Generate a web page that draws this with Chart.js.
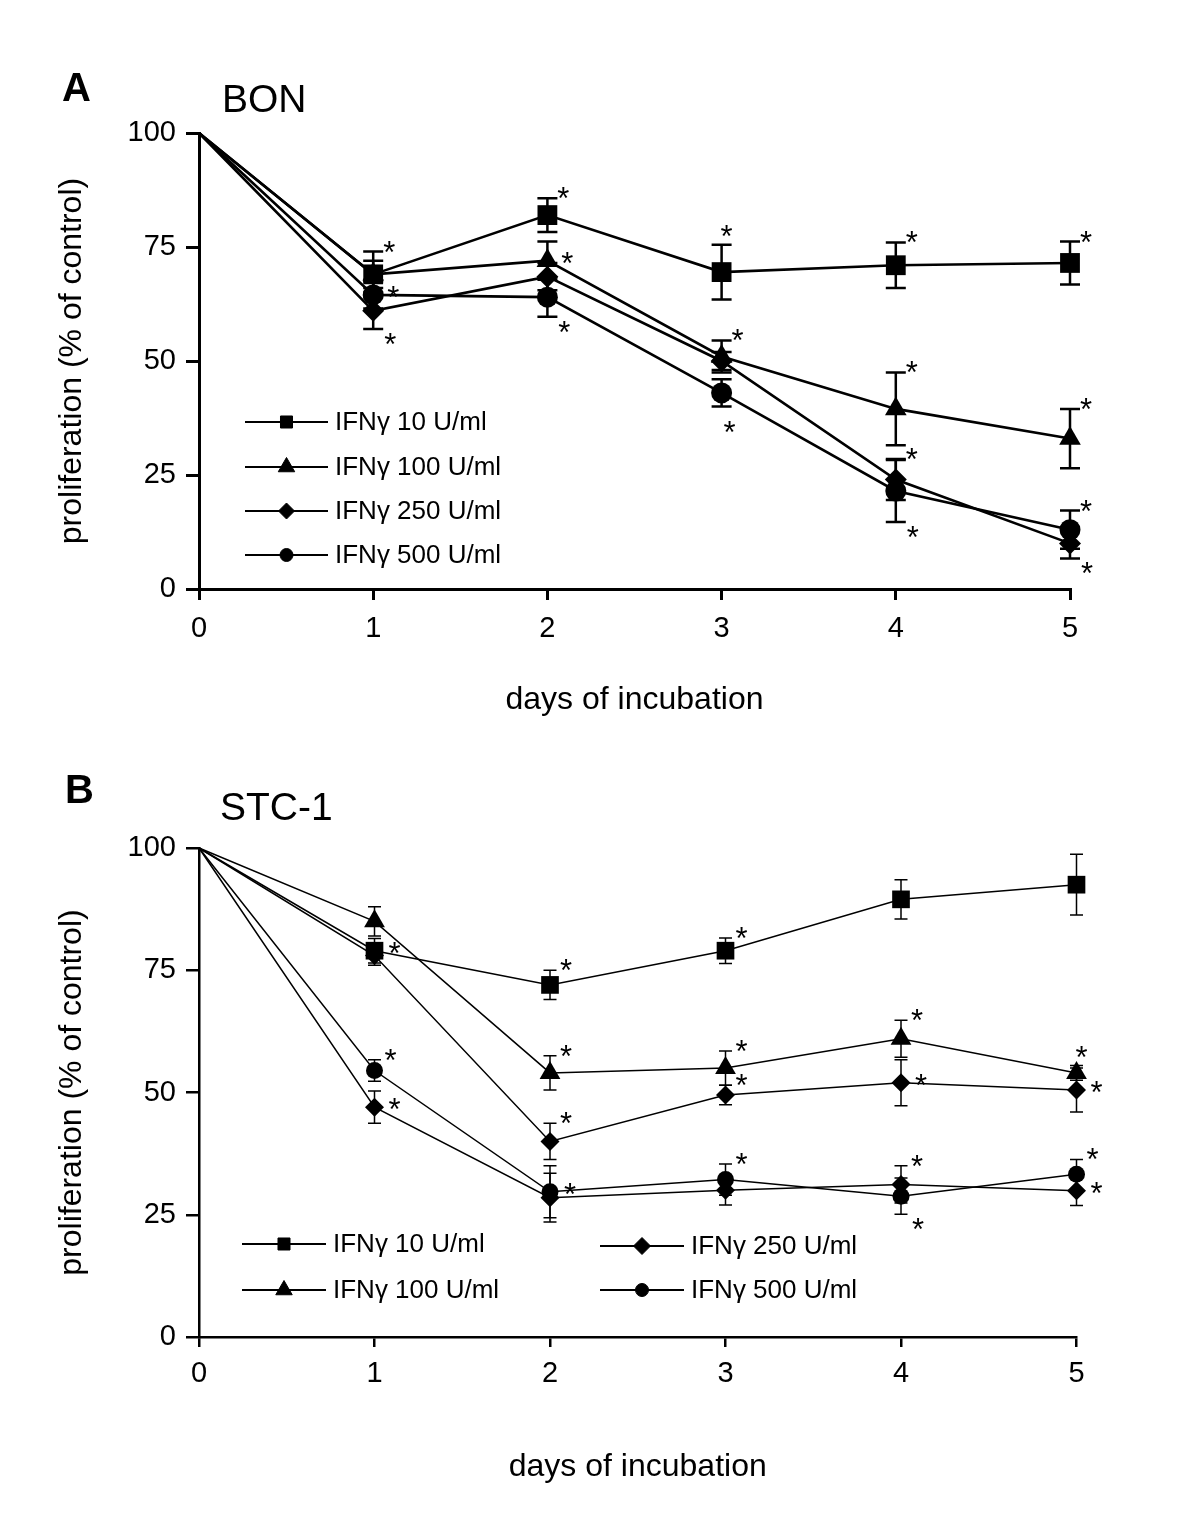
<!DOCTYPE html>
<html>
<head>
<meta charset="utf-8">
<title>IFNγ proliferation</title>
<script src="https://cdn.jsdelivr.net/npm/chart.js@4.4.1/dist/chart.umd.min.js"></script>
<style>
  html, body { margin: 0; padding: 0; background: #fff; }
  .panel { position: absolute; left: 0; width: 1200px; height: 770px; }
  #panelA { top: 0; }
  #panelB { top: 770px; }
</style>
</head>
<body>
<div class="panel" id="panelA"><canvas id="chartA" width="1200" height="770"></canvas></div>
<div class="panel" id="panelB"><canvas id="chartB" width="1200" height="770"></canvas></div>
<script>
/* ---- Data ---- */

const days = [0, 1, 2, 3, 4, 5];
const yTickStep = 25;
const legendLabels = ["IFNγ 10 U/ml", "IFNγ 100 U/ml", "IFNγ 250 U/ml", "IFNγ 500 U/ml"];

// Panel A: BON cells (mean, SEM, significance star placement)
const bon10 = [100, 69, 82, 69.5, 71, 71.5];
const bon10Err = [0, 5, 3.7, 6, 5, 4.7];
const bon10Stars = ["", "u", "u", "a", "u", "u"];
const bon100 = [100, 69, 72, 51, 39.5, 33];
const bon100Err = [0, 3, 4.2, 3.5, 8, 6.5];
const bon100Stars = ["", "", "r", "u", "u", "u"];
const bon250 = [100, 61, 68.5, 50, 24, 10];
const bon250Err = [0, 4, 3, 2, 4.5, 3.3];
const bon250Stars = ["", "d", "", "", "u", "d"];
const bon500 = [100, 64.5, 64, 43, 21.5, 13];
const bon500Err = [0, 3, 4.3, 3, 6.8, 4.2];
const bon500Stars = ["", "r", "d", "b", "d", "u"];

// Panel B: STC-1 cells (the fifth, unlabelled diamond series has no legend entry)
const stc10 = [100, 79, 72, 79, 89.5, 92.5];
const stc10Err = [0, 2.5, 3, 2.6, 4, 6.2];
const stc10Stars = ["", "r", "u", "u", "", ""];
const stc100 = [100, 85, 54, 55, 61, 54];
const stc100Err = [0, 3, 3.5, 3.5, 3.8, 1.5];
const stc100Stars = ["", "", "u", "u", "u", "a"];
const stc250 = [100, 78, 40, 49.5, 52, 50.5];
const stc250Err = [0, 2, 3.7, 2, 4.7, 4.5];
const stc250Stars = ["", "", "u", "u", "r", "r"];
const stc500 = [100, 54.5, 29.7, 32.2, 28.8, 33.3];
const stc500Err = [0, 2.2, 5.3, 3.2, 3.7, 3];
const stc500Stars = ["", "u", "r", "u", "d", "u"];
const stcExtra = [100, 47, 28.5, 30, 31.2, 29.9];
const stcExtraErr = [0, 3.3, 5, 3, 3.8, 3];
const stcExtraStars = ["", "r", "", "", "u", "r"];

/* ---- Theme ---- */

const FONT = "'Liberation Sans', Arial, Helvetica, sans-serif";
Chart.defaults.font.family = FONT;
Chart.defaults.color = "#000";

/* ---- Plugins ---- */

// error bars under the markers, asterisks on top
const errorBarPlugin = {
  id: "errorBars",
  beforeDatasetsDraw(chart, args, opts) {
    const { ctx } = chart;
    const yScale = chart.scales.y;
    ctx.save();
    ctx.strokeStyle = "#000";
    ctx.lineWidth = opts.lineWidth;
    chart.data.datasets.forEach((ds, i) => {
      chart.getDatasetMeta(i).data.forEach((pt, j) => {
        const err = ds.errors[j];
        if (!err) return;
        const v = ds.data[j].y;
        const top = yScale.getPixelForValue(v + err);
        const bottom = yScale.getPixelForValue(v - err);
        ctx.beginPath();
        ctx.moveTo(pt.x, top);
        ctx.lineTo(pt.x, bottom);
        ctx.moveTo(pt.x - opts.cap, top);
        ctx.lineTo(pt.x + opts.cap, top);
        ctx.moveTo(pt.x - opts.cap, bottom);
        ctx.lineTo(pt.x + opts.cap, bottom);
        ctx.stroke();
      });
    });
    ctx.restore();
  },
  afterDatasetsDraw(chart, args, opts) {
    const { ctx } = chart;
    const yScale = chart.scales.y;
    const place = {
      u: [16, -7, 1], a: [5, -16, 1], r: [20, -5, 0], d: [17, 8, -1], b: [8, 18, -1],
    };
    ctx.save();
    ctx.fillStyle = "#000";
    ctx.font = `${opts.starSize}px ${FONT}`;
    ctx.textAlign = "center";
    ctx.textBaseline = "alphabetic";
    chart.data.datasets.forEach((ds, i) => {
      chart.getDatasetMeta(i).data.forEach((pt, j) => {
        const kind = ds.stars[j];
        if (!kind) return;
        const [dx, dy, side] = place[kind];
        const v = ds.data[j].y + side * ds.errors[j];
        const cy = yScale.getPixelForValue(v) + dy;
        ctx.fillText("*", pt.x + dx, cy + opts.starSize * 0.58);
      });
    });
    ctx.restore();
  },
};

const markerLegendPlugin = {
  id: "markerLegend",
  afterDraw(chart, args, opts) {
    const { ctx } = chart;
    ctx.save();
    opts.slots.forEach((slot, k) => {
      const ds = chart.data.datasets[k];
      const cx = slot.x + opts.lineLength / 2;
      ctx.strokeStyle = "#000";
      ctx.lineWidth = opts.lineWidth;
      ctx.beginPath();
      ctx.moveTo(slot.x, slot.y);
      ctx.lineTo(slot.x + opts.lineLength, slot.y);
      ctx.stroke();
      ctx.fillStyle = "#000";
      ctx.lineWidth = 1;
      Chart.helpers.drawPoint(
        ctx,
        { pointStyle: ds.pointStyle, radius: ds.legendRadius, rotation: 0, borderWidth: 1 },
        cx,
        slot.y,
      );
      ctx.font = `${opts.fontSize}px ${FONT}`;
      ctx.textAlign = "left";
      ctx.textBaseline = "middle";
      ctx.fillText(ds.label, slot.x + opts.lineLength + opts.gap, slot.y + 1);
    });
    ctx.restore();
  },
};

const panelLabelPlugin = {
  id: "panelLabel",
  afterDraw(chart, args, opts) {
    const { ctx } = chart;
    ctx.save();
    ctx.fillStyle = "#000";
    ctx.textBaseline = "alphabetic";
    ctx.textAlign = "left";
    ctx.font = `bold 40px ${FONT}`;
    ctx.fillText(opts.letter, opts.letterX, opts.letterY);
    ctx.font = `39px ${FONT}`;
    ctx.fillText(opts.title, opts.titleX, opts.titleY);
    ctx.restore();
  },
};

/* ---- Helpers ---- */

const toPoints = (values) => values.map((v, i) => ({ x: days[i], y: v }));

const makeSeries = (label, values, errors, stars, style, radius, legendRadius, lineWidth) => ({
  label,
  data: toPoints(values),
  errors,
  stars,
  legendRadius,
  borderColor: "#000",
  backgroundColor: "#000",
  borderWidth: lineWidth,
  pointStyle: style,
  pointRadius: (c) => (c.dataIndex === 0 ? 0 : radius),
  pointBackgroundColor: "#000",
  pointBorderWidth: 0,
  tension: 0,
  clip: false,
});

const makeScales = (p) => ({
  x: {
    type: "linear",
    min: 0,
    max: 5,
    afterFit: (s) => { s.height = p.xAxisHeight; },
    ticks: { stepSize: 1, font: { size: 29 }, color: "#000", padding: p.xPad },
    grid: { drawOnChartArea: false, drawTicks: true, tickLength: p.tick, color: "#000", lineWidth: p.axisWidth },
    border: { display: true, color: "#000", width: p.axisWidth },
    title: {
      display: true, text: "days of incubation", color: "#000",
      font: { size: 32 }, padding: { top: 0, bottom: p.xTitlePad },
    },
  },
  y: {
    min: 0,
    max: 100,
    afterFit: (s) => { s.width = 199; },
    ticks: { stepSize: yTickStep, font: { size: 29 }, color: "#000", padding: 10 },
    grid: { drawOnChartArea: false, drawTicks: true, tickLength: 13, color: "#000", lineWidth: p.axisWidth },
    border: { display: true, color: "#000", width: p.axisWidth },
    title: {
      display: true, text: "proliferation (% of control)", color: "#000",
      font: { size: 32 }, padding: { top: 53, bottom: 0 },
    },
  },
});

const baseOptions = (p) => ({
  responsive: false,
  animation: false,
  devicePixelRatio: 1,
  events: [],
  layout: { padding: { top: p.top, right: p.right, left: 0, bottom: 0 } },
  scales: makeScales(p),
  plugins: {
    legend: { display: false },
    tooltip: { enabled: false },
    errorBars: { lineWidth: p.errWidth, cap: p.cap, starSize: 31 },
    markerLegend: p.legend,
    panelLabel: p.label,
  },
});

/* ---- Panel A: BON ---- */

new Chart(document.getElementById("chartA"), {
  type: "line",
  data: {
    datasets: [
      makeSeries(legendLabels[0], bon10, bon10Err, bon10Stars, "rect", 14, 8.5, 2.6),
      makeSeries(legendLabels[1], bon100, bon100Err, bon100Stars, "triangle", 12.5, 9.5, 2.6),
      makeSeries(legendLabels[2], bon250, bon250Err, bon250Stars, "rectRot", 11, 8, 2.6),
      makeSeries(legendLabels[3], bon500, bon500Err, bon500Stars, "circle", 10.5, 6.5, 2.6),
    ],
  },
  options: baseOptions({
    top: 133, right: 130, xAxisHeight: 770 - 589, tick: 11, xPad: 12, xTitlePad: 51,
    axisWidth: 3, errWidth: 2.5, cap: 10,
    legend: {
      lineLength: 83, gap: 7, lineWidth: 2, fontSize: 26,
      slots: [{ x: 245, y: 422 }, { x: 245, y: 467 }, { x: 245, y: 511 }, { x: 245, y: 555 }],
    },
    label: { letter: "A", letterX: 62, letterY: 101, title: "BON", titleX: 222, titleY: 112 },
  }),
  plugins: [errorBarPlugin, markerLegendPlugin, panelLabelPlugin],
});

/* ---- Panel B: STC-1 ---- */

new Chart(document.getElementById("chartB"), {
  type: "line",
  data: {
    datasets: [
      makeSeries(legendLabels[0], stc10, stc10Err, stc10Stars, "rect", 12.5, 8.5, 1.5),
      makeSeries(legendLabels[1], stc100, stc100Err, stc100Stars, "triangle", 12, 9.5, 1.5),
      makeSeries(legendLabels[2], stc250, stc250Err, stc250Stars, "rectRot", 9.5, 8.5, 1.5),
      makeSeries(legendLabels[3], stc500, stc500Err, stc500Stars, "circle", 8.5, 6.5, 1.5),
      makeSeries("", stcExtra, stcExtraErr, stcExtraStars, "rectRot", 9.5, 8, 1.5),
    ],
  },
  options: baseOptions({
    top: 78, right: 123.5, xAxisHeight: 770 - 567, tick: 10, xPad: 10, xTitlePad: 54,
    axisWidth: 2.5, errWidth: 1.5, cap: 6.5,
    legend: {
      lineLength: 84, gap: 7, lineWidth: 2, fontSize: 26,
      slots: [{ x: 242, y: 474 }, { x: 242, y: 520 }, { x: 600, y: 476 }, { x: 600, y: 520 }],
    },
    label: { letter: "B", letterX: 65, letterY: 33, title: "STC-1", titleX: 220, titleY: 50 },
  }),
  plugins: [errorBarPlugin, markerLegendPlugin, panelLabelPlugin],
});
</script>
</body>
</html>
